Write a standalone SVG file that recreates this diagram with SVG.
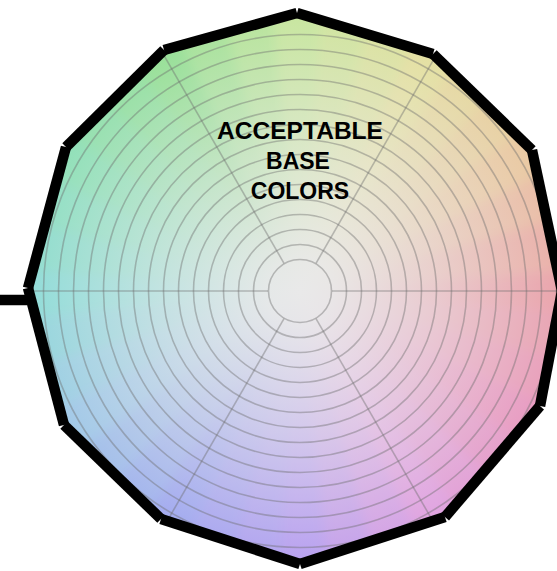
<svg xmlns="http://www.w3.org/2000/svg" xmlns:xlink="http://www.w3.org/1999/xlink" width="557" height="571" viewBox="0 0 557 571">
  <style>
    .ring { fill: none; stroke: #6e6e6e; stroke-opacity: 0.42; stroke-width: 1.6; }
    .spoke { stroke: #6e6e6e; stroke-opacity: 0.42; stroke-width: 1.6; }
    .edge { stroke: #000; stroke-width: 10.5; stroke-linecap: butt; fill: none; }
    .label { font-family: "Liberation Sans", Arial, Helvetica, sans-serif; font-weight: bold; font-size: 23px; fill: #000; text-anchor: middle; }
  </style>
  <defs>
    <path id="wedge" d="M0,0 L330,-33 L330,33 Z"/>
    <line id="sp" x1="32" y1="0" x2="320" y2="0"/>
    <clipPath id="polyClip">
      <polygon points="297,13 433,54 532,150 562,291 540,406 445,517 300,564 161,519 64,425 28,288 66,147 164,50"/>
    </clipPath>
    <filter id="soft" x="-20%" y="-20%" width="140%" height="140%">
      <feGaussianBlur stdDeviation="6"/>
    </filter>
    <radialGradient id="fade" gradientUnits="userSpaceOnUse" cx="300" cy="291" r="285">
      <stop offset="0" stop-color="#e9e9e9" stop-opacity="1"/>
      <stop offset="0.12" stop-color="#e9e9e9" stop-opacity="0.95"/>
      <stop offset="0.5" stop-color="#e9e9e9" stop-opacity="0.55"/>
      <stop offset="0.95" stop-color="#e9e9e9" stop-opacity="0.02"/>
      <stop offset="1" stop-color="#e9e9e9" stop-opacity="0"/>
    </radialGradient>
  </defs>

  <g id="wheel" clip-path="url(#polyClip)">
    <g filter="url(#soft)" transform="translate(300,291)">
      <use xlink:href="#wedge" href="#wedge" fill="#eaa0a8" transform="rotate(0)"/>
      <use xlink:href="#wedge" href="#wedge" fill="#e9a0b0" transform="rotate(10)"/>
      <use xlink:href="#wedge" href="#wedge" fill="#e99cb8" transform="rotate(20)"/>
      <use xlink:href="#wedge" href="#wedge" fill="#e898c0" transform="rotate(30)"/>
      <use xlink:href="#wedge" href="#wedge" fill="#e59ac9" transform="rotate(40)"/>
      <use xlink:href="#wedge" href="#wedge" fill="#e29dd5" transform="rotate(50)"/>
      <use xlink:href="#wedge" href="#wedge" fill="#e0a0e0" transform="rotate(60)"/>
      <use xlink:href="#wedge" href="#wedge" fill="#d3a0e5" transform="rotate(70)"/>
      <use xlink:href="#wedge" href="#wedge" fill="#c5a0ea" transform="rotate(80)"/>
      <use xlink:href="#wedge" href="#wedge" fill="#b8a0f0" transform="rotate(90)"/>
      <use xlink:href="#wedge" href="#wedge" fill="#b0a3f0" transform="rotate(100)"/>
      <use xlink:href="#wedge" href="#wedge" fill="#a8a5f0" transform="rotate(110)"/>
      <use xlink:href="#wedge" href="#wedge" fill="#a0a8f0" transform="rotate(120)"/>
      <use xlink:href="#wedge" href="#wedge" fill="#a0b3ed" transform="rotate(130)"/>
      <use xlink:href="#wedge" href="#wedge" fill="#a0bdea" transform="rotate(140)"/>
      <use xlink:href="#wedge" href="#wedge" fill="#a0c8e8" transform="rotate(150)"/>
      <use xlink:href="#wedge" href="#wedge" fill="#9bcfe3" transform="rotate(160)"/>
      <use xlink:href="#wedge" href="#wedge" fill="#95d5dd" transform="rotate(170)"/>
      <use xlink:href="#wedge" href="#wedge" fill="#90dcd8" transform="rotate(180)"/>
      <use xlink:href="#wedge" href="#wedge" fill="#90ddcd" transform="rotate(190)"/>
      <use xlink:href="#wedge" href="#wedge" fill="#90dfc3" transform="rotate(200)"/>
      <use xlink:href="#wedge" href="#wedge" fill="#90e0b8" transform="rotate(210)"/>
      <use xlink:href="#wedge" href="#wedge" fill="#93e0ad" transform="rotate(220)"/>
      <use xlink:href="#wedge" href="#wedge" fill="#95e0a3" transform="rotate(230)"/>
      <use xlink:href="#wedge" href="#wedge" fill="#98e098" transform="rotate(240)"/>
      <use xlink:href="#wedge" href="#wedge" fill="#a8e29b" transform="rotate(250)"/>
      <use xlink:href="#wedge" href="#wedge" fill="#b8e49d" transform="rotate(260)"/>
      <use xlink:href="#wedge" href="#wedge" fill="#c8e6a0" transform="rotate(270)"/>
      <use xlink:href="#wedge" href="#wedge" fill="#d1e4a0" transform="rotate(280)"/>
      <use xlink:href="#wedge" href="#wedge" fill="#dbe2a0" transform="rotate(290)"/>
      <use xlink:href="#wedge" href="#wedge" fill="#e4e0a0" transform="rotate(300)"/>
      <use xlink:href="#wedge" href="#wedge" fill="#e6d8a0" transform="rotate(310)"/>
      <use xlink:href="#wedge" href="#wedge" fill="#e8d0a0" transform="rotate(320)"/>
      <use xlink:href="#wedge" href="#wedge" fill="#eac8a0" transform="rotate(330)"/>
      <use xlink:href="#wedge" href="#wedge" fill="#eabba3" transform="rotate(340)"/>
      <use xlink:href="#wedge" href="#wedge" fill="#eaada5" transform="rotate(350)"/>
    </g>
    <rect x="0" y="0" width="557" height="571" fill="url(#fade)"/>
    <g id="rings">
      <circle class="ring" cx="300" cy="291" r="31.5"/>
      <circle class="ring" cx="300" cy="291" r="46.5"/>
      <circle class="ring" cx="300" cy="291" r="61.5"/>
      <circle class="ring" cx="300" cy="291" r="76.5"/>
      <circle class="ring" cx="300" cy="291" r="91.5"/>
      <circle class="ring" cx="300" cy="291" r="106.5"/>
      <circle class="ring" cx="300" cy="291" r="121.5"/>
      <circle class="ring" cx="300" cy="291" r="136.5"/>
      <circle class="ring" cx="300" cy="291" r="151.5"/>
      <circle class="ring" cx="300" cy="291" r="166.5"/>
      <circle class="ring" cx="300" cy="291" r="181.5"/>
      <circle class="ring" cx="300" cy="291" r="196.5"/>
      <circle class="ring" cx="300" cy="291" r="211.5"/>
      <circle class="ring" cx="300" cy="291" r="226.5"/>
      <circle class="ring" cx="300" cy="291" r="241.5"/>
      <circle class="ring" cx="300" cy="291" r="256.5"/>
    </g>
    <g id="spokes" transform="translate(300,291)">
      <use xlink:href="#sp" href="#sp" class="spoke" transform="rotate(0)"/>
      <use xlink:href="#sp" href="#sp" class="spoke" transform="rotate(60)"/>
      <use xlink:href="#sp" href="#sp" class="spoke" transform="rotate(120)"/>
      <use xlink:href="#sp" href="#sp" class="spoke" transform="rotate(180)"/>
      <use xlink:href="#sp" href="#sp" class="spoke" transform="rotate(240)"/>
      <use xlink:href="#sp" href="#sp" class="spoke" transform="rotate(300)"/>
    </g>
  </g>

  <g id="border">
    <line class="edge" x1="297" y1="13" x2="433" y2="54"/>
    <line class="edge" x1="433" y1="54" x2="532" y2="150"/>
    <line class="edge" x1="532" y1="150" x2="562" y2="291"/>
    <line class="edge" x1="562" y1="291" x2="540" y2="406"/>
    <line class="edge" x1="540" y1="406" x2="445" y2="517"/>
    <line class="edge" x1="445" y1="517" x2="300" y2="564"/>
    <line class="edge" x1="300" y1="564" x2="161" y2="519"/>
    <line class="edge" x1="161" y1="519" x2="64" y2="425"/>
    <line class="edge" x1="64" y1="425" x2="28" y2="288"/>
    <line class="edge" x1="28" y1="288" x2="66" y2="147"/>
    <line class="edge" x1="66" y1="147" x2="164" y2="50"/>
    <line class="edge" x1="164" y1="50" x2="297" y2="13"/>
  </g>

  <g id="connectors">
    <line class="edge" x1="0" y1="300" x2="27" y2="300"/>
  </g>

  <g id="label">
    <text class="label" x="300" y="139" textLength="166" lengthAdjust="spacingAndGlyphs">ACCEPTABLE</text>
    <text class="label" x="298" y="169">BASE</text>
    <text class="label" x="300" y="199">COLORS</text>
  </g>
</svg>
